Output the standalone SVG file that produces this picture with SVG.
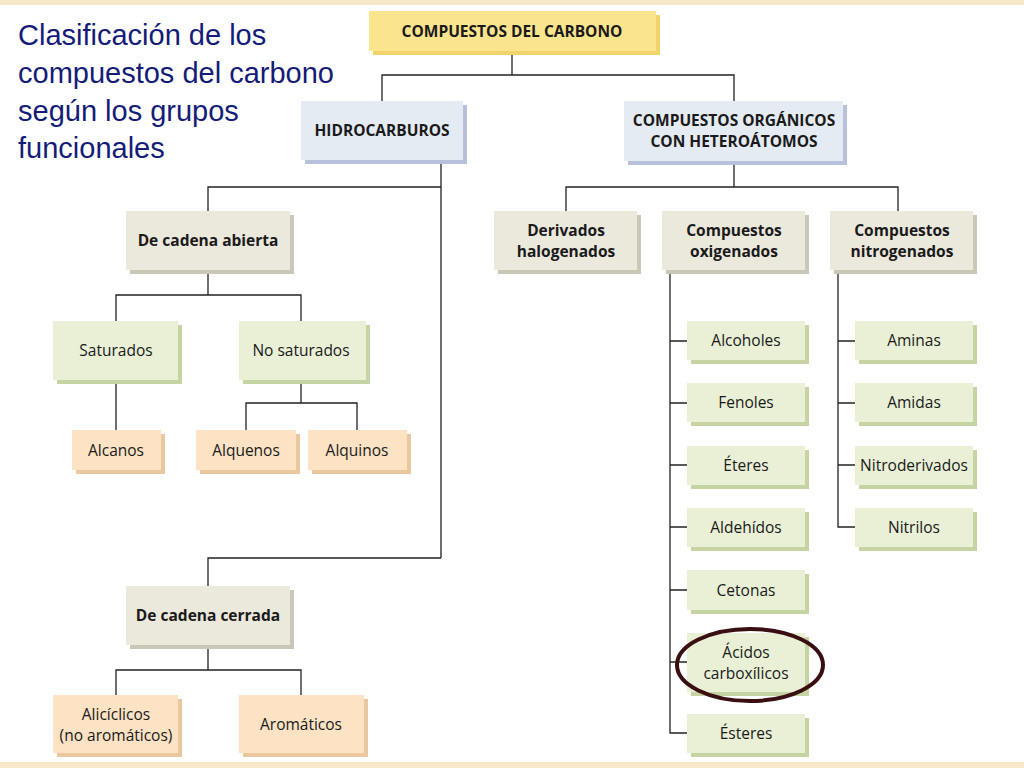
<svg xmlns="http://www.w3.org/2000/svg" width="1024" height="768" viewBox="0 0 1024 768">
<defs><style>
text{font-family:"Open Sans","Noto Sans",sans-serif;font-size:15.5px;fill:#1a1a1a;text-anchor:middle}
.b{font-weight:bold}
.t{font-family:"Liberation Sans",Arial,sans-serif;font-size:29px;fill:#141c78;text-anchor:start}
.c{stroke:#222;stroke-width:1.3;fill:none}
</style></defs>
<rect width="1024" height="768" fill="#fff"/>
<rect width="1024" height="5" fill="#f6e8c8"/>
<rect y="762" width="1024" height="6" fill="#f6e8c8"/>
<g id="title"><text class="t" x="18" y="45">Clasificación de los</text><text class="t" x="18" y="83">compuestos del carbono</text><text class="t" x="18" y="121">según los grupos</text><text class="t" x="18" y="158">funcionales</text></g>
<g id="connectors" class="c">
<path d="M512 51V75M382 101V75H734V101"/>
<path d="M441 160V558M208 211V187H441M208 586V558H441"/>
<path d="M208 270V295M116 321V295H301V321M116 380V430M301 380V403M246 430V403H357V430"/>
<path d="M208 645V670M116 695V670H301V695"/>
<path d="M734 161V187M566 211V187H898V211"/>
<path d="M670 270V733H687M670 341H687M670 403H687M670 465H687M670 527H687M670 590H687M670 662H687"/>
<path d="M838 270V527H855M838 341H855M838 403H855M838 465H855"/>
</g>
<g id="n-top"><rect x="373" y="15" width="287" height="40" fill="#f2d26a"/><rect x="369" y="11" width="287" height="40" fill="#fbe48e"/><text class="b" x="512" y="37">COMPUESTOS DEL CARBONO</text></g>
<g id="n-hidro"><rect x="305" y="105" width="162" height="59" fill="#b7c1dc"/><rect x="301" y="101" width="162" height="59" fill="#e4ebf3"/><text class="b" x="382" y="136">HIDROCARBUROS</text></g>
<g id="n-org"><rect x="628" y="105" width="219" height="60" fill="#b7c1dc"/><rect x="624" y="101" width="219" height="60" fill="#e4ebf3"/><text class="b" x="734" y="126">COMPUESTOS ORGÁNICOS</text><text class="b" x="734" y="147">CON HETEROÁTOMOS</text></g>
<g fill="#ebe8dc">
<g id="n-abierta"><rect x="130" y="215" width="164" height="59" fill="#cbc7b8"/><rect x="126" y="211" width="164" height="59"/><text class="b" x="208" y="246">De cadena abierta</text></g>
<g id="n-cerrada"><rect x="130" y="590" width="164" height="59" fill="#cbc7b8"/><rect x="126" y="586" width="164" height="59"/><text class="b" x="208" y="621">De cadena cerrada</text></g>
<g id="n-halo"><rect x="498" y="215" width="143" height="59" fill="#cbc7b8"/><rect x="494" y="211" width="143" height="59"/><text class="b" x="566" y="236">Derivados</text><text class="b" x="566" y="257">halogenados</text></g>
<g id="n-oxi"><rect x="666" y="215" width="143" height="59" fill="#cbc7b8"/><rect x="662" y="211" width="143" height="59"/><text class="b" x="734" y="236">Compuestos</text><text class="b" x="734" y="257">oxigenados</text></g>
<g id="n-nitro"><rect x="834" y="215" width="143" height="59" fill="#cbc7b8"/><rect x="830" y="211" width="143" height="59"/><text class="b" x="902" y="236">Compuestos</text><text class="b" x="902" y="257">nitrogenados</text></g>
</g>
<g fill="#e9f0d6">
<g id="n-sat"><rect x="57" y="325" width="125" height="59" fill="#c6d4a3"/><rect x="53" y="321" width="125" height="59"/><text x="116" y="356">Saturados</text></g>
<g id="n-nosat"><rect x="243" y="325" width="127" height="59" fill="#c6d4a3"/><rect x="239" y="321" width="127" height="59"/><text x="301" y="356">No saturados</text></g>
<g id="n-alcoholes"><rect x="691" y="325" width="118" height="39" fill="#c6d4a3"/><rect x="687" y="321" width="118" height="39"/><text x="746" y="346">Alcoholes</text></g>
<g id="n-fenoles"><rect x="691" y="387" width="118" height="39" fill="#c6d4a3"/><rect x="687" y="383" width="118" height="39"/><text x="746" y="408">Fenoles</text></g>
<g id="n-eteres"><rect x="691" y="450" width="118" height="39" fill="#c6d4a3"/><rect x="687" y="446" width="118" height="39"/><text x="746" y="471">Éteres</text></g>
<g id="n-aldehidos"><rect x="691" y="512" width="118" height="39" fill="#c6d4a3"/><rect x="687" y="508" width="118" height="39"/><text x="746" y="533">Aldehídos</text></g>
<g id="n-cetonas"><rect x="691" y="574" width="118" height="40" fill="#c6d4a3"/><rect x="687" y="570" width="118" height="40"/><text x="746" y="596">Cetonas</text></g>
<g id="n-acidos"><rect x="691" y="637" width="118" height="59" fill="#c6d4a3"/><rect x="687" y="633" width="118" height="59"/><text x="746" y="658">Ácidos</text><text x="746" y="679">carboxílicos</text></g>
<g id="n-esteres"><rect x="691" y="718" width="118" height="39" fill="#c6d4a3"/><rect x="687" y="714" width="118" height="39"/><text x="746" y="739">Ésteres</text></g>
<g id="n-aminas"><rect x="859" y="325" width="118" height="39" fill="#c6d4a3"/><rect x="855" y="321" width="118" height="39"/><text x="914" y="346">Aminas</text></g>
<g id="n-amidas"><rect x="859" y="387" width="118" height="39" fill="#c6d4a3"/><rect x="855" y="383" width="118" height="39"/><text x="914" y="408">Amidas</text></g>
<g id="n-nitroder"><rect x="859" y="450" width="118" height="39" fill="#c6d4a3"/><rect x="855" y="446" width="118" height="39"/><text x="914" y="471">Nitroderivados</text></g>
<g id="n-nitrilos"><rect x="859" y="512" width="118" height="39" fill="#c6d4a3"/><rect x="855" y="508" width="118" height="39"/><text x="914" y="533">Nitrilos</text></g>
</g>
<g fill="#fde2c4">
<g id="n-alcanos"><rect x="76" y="434" width="89" height="40" fill="#ebc7a0"/><rect x="72" y="430" width="89" height="40"/><text x="116" y="456">Alcanos</text></g>
<g id="n-alquenos"><rect x="200" y="434" width="100" height="40" fill="#ebc7a0"/><rect x="196" y="430" width="100" height="40"/><text x="246" y="456">Alquenos</text></g>
<g id="n-alquinos"><rect x="312" y="434" width="99" height="40" fill="#ebc7a0"/><rect x="308" y="430" width="99" height="40"/><text x="357" y="456">Alquinos</text></g>
<g id="n-aliciclicos"><rect x="57" y="699" width="125" height="58" fill="#ebc7a0"/><rect x="53" y="695" width="125" height="58"/><text x="116" y="720">Alicíclicos</text><text x="116" y="741">(no aromáticos)</text></g>
<g id="n-aromaticos"><rect x="243" y="699" width="125" height="58" fill="#ebc7a0"/><rect x="239" y="695" width="125" height="58"/><text x="301" y="730">Aromáticos</text></g>
</g>
<ellipse id="highlight" cx="750" cy="665" rx="73" ry="36" fill="none" stroke="#3a0f12" stroke-width="4"/>
</svg>
